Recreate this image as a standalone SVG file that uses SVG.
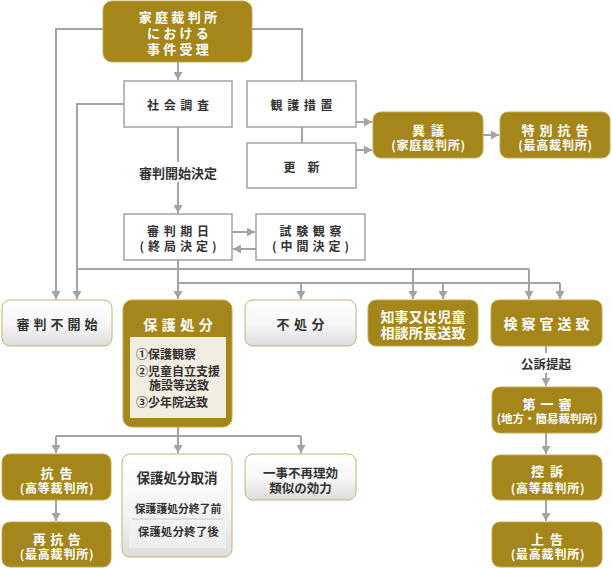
<svg xmlns="http://www.w3.org/2000/svg" width="612" height="568" viewBox="0 0 612 568">
<style>
text{font-family:"Noto Sans CJK JP","Noto Sans CJK SC",sans-serif;font-weight:bold;text-anchor:middle;dominant-baseline:central}
.d{fill:#333}
.w{fill:#fff}
.gold{fill:#a5861a;stroke:#c4aa4e;stroke-width:1}
.rect{fill:#fff;stroke:#a3a3a3;stroke-width:1.5}
.soft{fill:url(#gw);stroke:#c6b36c;stroke-width:1}
.ln{fill:none;stroke:#a3a3a3;stroke-width:2}
.arr{fill:none;stroke:#a3a3a3;stroke-width:2;marker-end:url(#ah)}
</style>
<defs>
<linearGradient id="gw" x1="0" y1="0" x2="0" y2="1"><stop offset="0" stop-color="#ffffff"/><stop offset="0.55" stop-color="#f6f6f6"/><stop offset="1" stop-color="#dcdcdc"/></linearGradient>
<linearGradient id="gp" x1="0" y1="0" x2="0" y2="1"><stop offset="0" stop-color="#f7f7f7"/><stop offset="1" stop-color="#eeeeee"/></linearGradient>
<marker id="ah" markerWidth="9" markerHeight="9" refX="8" refY="4.5" orient="auto" markerUnits="userSpaceOnUse"><path d="M0,0 L8,4.5 L0,9 z" fill="#a3a3a3"/></marker>
</defs>

<g id="connectors">
<path class="arr" d="M103,29 H56 V299"/>
<path class="ln" d="M252,29 H302 V81"/>
<path class="arr" d="M178,62 V80"/>
<path class="ln" d="M302,127 V143"/>
<path class="arr" d="M356,122 H372"/>
<path class="arr" d="M356,150 H372"/>
<path class="arr" d="M483,135 H499"/>
<path class="arr" d="M124,104 H77 V299"/>
<path class="ln" d="M178,127 V162"/>
<path class="arr" d="M178,182 V213"/>
<path class="arr" d="M232,232 H255"/>
<path class="arr" d="M256,249 H233"/>
<path class="ln" d="M77,269 H529"/>
<path class="arr" d="M413,269 V299"/>
<path class="arr" d="M529,269 V299"/>
<path class="arr" d="M178,260 V299"/>
<path class="ln" d="M178,283 H560"/>
<path class="arr" d="M301,283 V299"/>
<path class="arr" d="M443,283 V299"/>
<path class="arr" d="M560,283 V299"/>
<path class="ln" d="M546,346 V353"/>
<path class="arr" d="M546,373 V386"/>
<path class="arr" d="M546,433 V454"/>
<path class="arr" d="M546,500 V521"/>
<path class="ln" d="M178,427 V436 M56,436 H301"/>
<path class="arr" d="M56,436 V453"/>
<path class="arr" d="M178,436 V453"/>
<path class="arr" d="M301,436 V453"/>
<path class="arr" d="M56,500 V521"/>
<text class="d" x="178" y="172" font-size="13">審判開始決定</text>
<text class="d" x="546" y="363" font-size="12.5">公訴提起</text>
</g>

<g id="n-juri">
<rect class="gold" x="103" y="1" width="149" height="61" rx="9"/>
<text class="w" x="179.5" y="16" font-size="13" letter-spacing="3.3">家庭裁判所</text>
<text class="w" x="179.5" y="32" font-size="13" letter-spacing="3.3">における</text>
<text class="w" x="179.5" y="48" font-size="13" letter-spacing="3.3">事件受理</text>
</g>

<g id="n-shakai">
<rect class="rect" x="124" y="81" width="108" height="46"/>
<text class="d" x="180.3" y="104" font-size="12" letter-spacing="4.6">社会調査</text>
</g>

<g id="n-kango">
<rect class="rect" x="247" y="81" width="109" height="46"/>
<text class="d" x="303.8" y="104" font-size="12" letter-spacing="4.6">観護措置</text>
</g>

<g id="n-koshin">
<rect class="rect" x="247" y="143" width="109" height="45"/>
<text class="d" x="307.5" y="166" font-size="12" letter-spacing="12">更新</text>
</g>

<g id="n-igi">
<rect class="gold" x="373" y="112" width="110" height="46" rx="8"/>
<text class="w" x="431" y="129" font-size="13" letter-spacing="6">異議</text>
<text class="w" x="428.5" y="144" font-size="12" letter-spacing="0.8">(家庭裁判所)</text>
</g>

<g id="n-tokubetsu">
<rect class="gold" x="500" y="112" width="110" height="46" rx="8"/>
<text class="w" x="557.5" y="129" font-size="13" letter-spacing="5">特別抗告</text>
<text class="w" x="555.5" y="144" font-size="12" letter-spacing="0.8">(最高裁判所)</text>
</g>

<g id="n-kijitsu">
<rect class="rect" x="124" y="214" width="108" height="46"/>
<text class="d" x="180.3" y="230" font-size="12" letter-spacing="4.6">審判期日</text>
<text class="d" x="180" y="245" font-size="12" letter-spacing="4">(終局決定)</text>
</g>

<g id="n-shiken">
<rect class="rect" x="256" y="214" width="109" height="46"/>
<text class="d" x="312.8" y="230" font-size="12" letter-spacing="4.6">試験観察</text>
<text class="d" x="312.5" y="245" font-size="12" letter-spacing="4">(中間決定)</text>
</g>

<g id="n-fukaishi">
<rect class="soft" x="2" y="300" width="110" height="46" rx="8"/>
<text class="d" x="59" y="323" font-size="13" letter-spacing="4">審判不開始</text>
</g>

<g id="n-hogo">
<rect class="gold" x="123" y="300" width="109" height="127" rx="9"/>
<text class="w" x="180.3" y="324" font-size="14" letter-spacing="4.5">保護処分</text>
<rect x="130" y="337" width="96" height="81" fill="#f1ede0"/>
<text class="d" x="136" y="353" font-size="12" style="text-anchor:start">①保護観察</text>
<text class="d" x="136" y="370" font-size="12" style="text-anchor:start">②児童自立支援</text>
<text class="d" x="149" y="384" font-size="12" style="text-anchor:start">施設等送致</text>
<text class="d" x="136" y="401" font-size="12" style="text-anchor:start">③少年院送致</text>
</g>

<g id="n-fushobun">
<rect class="soft" x="245" y="300" width="111" height="46" rx="8"/>
<text class="d" x="302.8" y="323" font-size="13" letter-spacing="4.5">不処分</text>
</g>

<g id="n-chiji">
<rect class="gold" x="368" y="300" width="110" height="46" rx="8"/>
<text class="w" x="423" y="316" font-size="14" letter-spacing="0.2">知事又は児童</text>
<text class="w" x="423" y="332" font-size="14" letter-spacing="0.2">相談所長送致</text>
</g>

<g id="n-kensatsu">
<rect class="gold" x="491" y="300" width="111" height="46" rx="8"/>
<text class="w" x="548.5" y="323" font-size="14" letter-spacing="4">検察官送致</text>
</g>

<g id="n-daiisshin">
<rect class="gold" x="492" y="387" width="110" height="46" rx="8"/>
<text class="w" x="549.5" y="403" font-size="13" letter-spacing="5">第一審</text>
<text class="w" x="547" y="418" font-size="11.5">(地方・簡易裁判所)</text>
</g>

<g id="n-koso">
<rect class="gold" x="492" y="455" width="110" height="45" rx="8"/>
<text class="w" x="550" y="470" font-size="13" letter-spacing="6">控訴</text>
<text class="w" x="548" y="487" font-size="12" letter-spacing="0.8">(高等裁判所)</text>
</g>

<g id="n-jokoku">
<rect class="gold" x="492" y="522" width="110" height="45" rx="8"/>
<text class="w" x="550" y="538" font-size="13" letter-spacing="6">上告</text>
<text class="w" x="548" y="553" font-size="12" letter-spacing="0.8">(最高裁判所)</text>
</g>

<g id="n-kokoku">
<rect class="gold" x="2" y="454" width="109" height="46" rx="8"/>
<text class="w" x="59.5" y="472" font-size="13" letter-spacing="6">抗告</text>
<text class="w" x="57" y="487" font-size="12" letter-spacing="0.8">(高等裁判所)</text>
</g>

<g id="n-saikokoku">
<rect class="gold" x="2" y="522" width="109" height="45" rx="8"/>
<text class="w" x="59" y="538" font-size="13" letter-spacing="4.5">再抗告</text>
<text class="w" x="57" y="553" font-size="12" letter-spacing="0.8">(最高裁判所)</text>
</g>

<g id="n-torikeshi">
<rect class="soft" x="122" y="454" width="110" height="103" rx="8"/>
<text class="d" x="177" y="477" font-size="13.5">保護処分取消</text>
<rect x="129" y="494" width="97" height="54" fill="url(#gp)"/>
<line x1="132" y1="519" x2="223" y2="519" stroke="#c8c8c8" stroke-width="1"/>
<text class="d" x="178" y="508" font-size="10.8">保護護処分終了前</text>
<text class="d" x="178.5" y="531" font-size="11.3" letter-spacing="0.3">保護処分終了後</text>
</g>

<g id="n-ichiji">
<rect class="soft" x="245" y="454" width="111" height="46" rx="8"/>
<text class="d" x="300.5" y="472" font-size="12.5">一事不再理効</text>
<text class="d" x="300.5" y="487" font-size="12.5">類似の効力</text>
</g>
</svg>
